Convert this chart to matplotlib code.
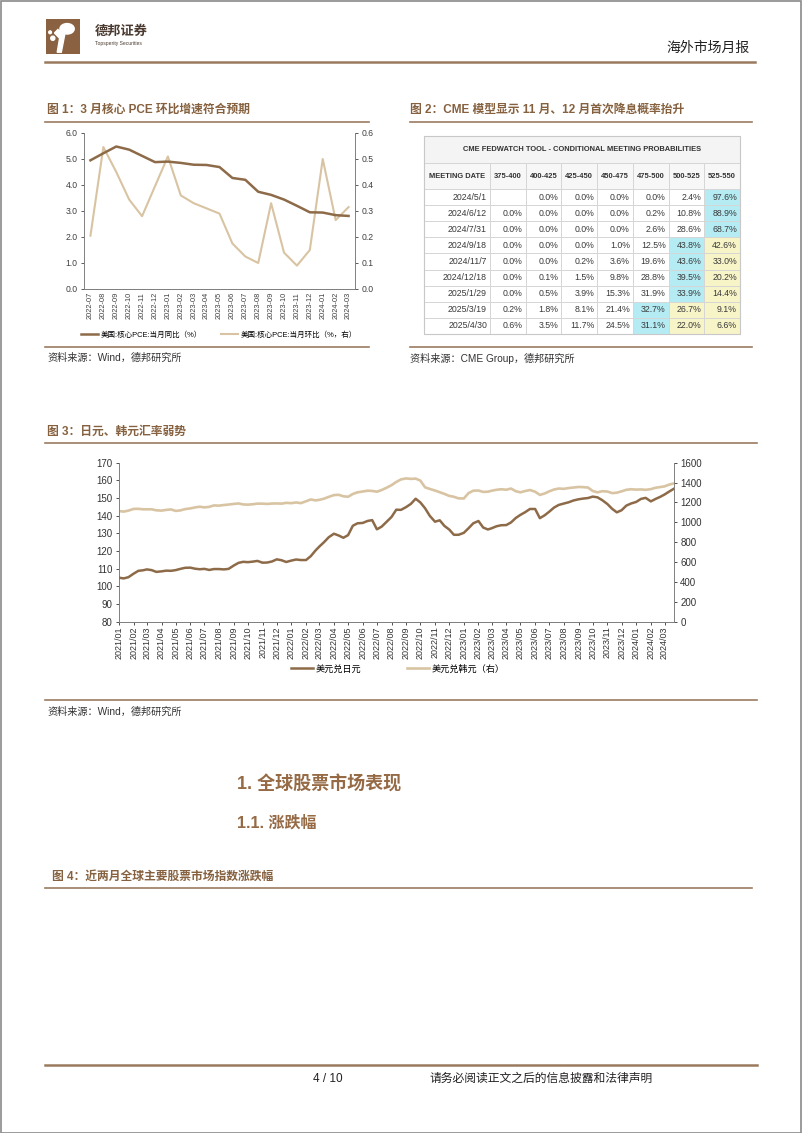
import matplotlib
matplotlib.use("Agg")
import matplotlib.pyplot as plt
import matplotlib.dates as mdates
from matplotlib.lines import Line2D
from matplotlib.patches import Rectangle, Ellipse, Polygon
import numpy as np
import pandas as pd

plt.rcParams['font.family'] = ['Liberation Sans', 'Noto Sans CJK SC', 'DejaVu Sans']

# ---------------- data ----------------
pce_months = ['2022-07', '2022-08', '2022-09', '2022-10', '2022-11', '2022-12',
              '2023-01', '2023-02', '2023-03', '2023-04', '2023-05', '2023-06',
              '2023-07', '2023-08', '2023-09', '2023-10', '2023-11', '2023-12',
              '2024-01', '2024-02', '2024-03']
pce_yoy = [4.95, 5.22, 5.48, 5.36, 5.12, 4.88, 4.90, 4.85, 4.78, 4.77, 4.69,
           4.27, 4.20, 3.74, 3.62, 3.44, 3.20, 2.95, 2.94, 2.84, 2.81]
pce_mom = [0.205, 0.546, 0.45, 0.344, 0.28, 0.395, 0.51, 0.36, 0.33, 0.31, 0.29,
           0.175, 0.125, 0.10, 0.33, 0.14, 0.09, 0.15, 0.50, 0.265, 0.315]
pce_labels = ['美国:核心PCE:当月同比（%）', '美国:核心PCE:当月环比（%，右）']

cme_dates = ['2024/5/1', '2024/6/12', '2024/7/31', '2024/9/18', '2024/11/7',
             '2024/12/18', '2025/1/29', '2025/3/19', '2025/4/30']
cme_ranges = ['375-400', '400-425', '425-450', '450-475', '475-500', '500-525', '525-550']
cme_probs = [
    [None, 0.0, 0.0, 0.0, 0.0, 2.4, 97.6],
    [0.0, 0.0, 0.0, 0.0, 0.2, 10.8, 88.9],
    [0.0, 0.0, 0.0, 0.0, 2.6, 28.6, 68.7],
    [0.0, 0.0, 0.0, 1.0, 12.5, 43.8, 42.6],
    [0.0, 0.0, 0.2, 3.6, 19.6, 43.6, 33.0],
    [0.0, 0.1, 1.5, 9.8, 28.8, 39.5, 20.2],
    [0.0, 0.5, 3.9, 15.3, 31.9, 33.9, 14.4],
    [0.2, 1.8, 8.1, 21.4, 32.7, 26.7, 9.1],
    [0.6, 3.5, 11.7, 24.5, 31.1, 22.0, 6.6],
]
cme_yellow = [(3, 6), (4, 6), (5, 6), (6, 6), (7, 6), (8, 6), (7, 5), (8, 5)]

fx_months = pd.period_range('2021-01', '2024-03', freq='M')
fx_days = [1, 11, 21]
jpy = [104.9, 104.5, 105.2, 107.2, 108.8, 109.1, 109.6, 109.2, 108.2,
       108.5, 108.9, 108.8, 109.2, 109.9, 110.5, 110.6, 110.0, 109.7,
       109.9, 109.3, 109.8, 109.8, 109.6, 109.9, 111.8, 113.3, 113.9,
       113.7, 114.0, 114.4, 113.4, 113.5, 114.1, 115.3, 114.8, 113.8,
       114.6, 115.2, 114.9, 114.9, 117.1, 120.3, 122.5, 125.0, 127.8,
       129.8, 128.8, 127.5, 129.0, 134.3, 135.7, 135.9, 137.0, 137.5,
       132.3, 133.8, 136.4, 139.3, 143.4, 143.3, 144.9, 146.7, 149.6,
       147.5, 144.2, 139.9, 136.6, 137.4, 134.2, 132.2, 129.2, 129.2,
       130.3, 132.9, 135.7, 137.0, 133.3, 132.2, 132.9, 134.0, 134.6,
       134.7, 136.2, 138.7, 140.5, 142.0, 143.8, 143.8, 138.6, 140.2,
       142.3, 144.6, 146.1, 146.9, 147.6, 148.6, 149.3, 149.7, 150.0,
       150.8, 150.4, 148.8, 146.6, 143.9, 141.9, 143.1, 145.7, 146.9,
       147.8, 149.5, 150.1, 148.1, 149.5, 150.7, 152.0, 153.7, 155.3]
krw = [1113, 1108, 1118, 1135, 1136, 1131, 1131, 1131, 1121,
       1118, 1125, 1130, 1115, 1120, 1133, 1140, 1150, 1157,
       1150, 1156, 1170, 1168, 1174, 1179, 1185, 1190, 1180,
       1178, 1182, 1188, 1188, 1185, 1189, 1190, 1188, 1196,
       1193, 1200, 1193, 1212, 1230, 1221, 1226, 1238, 1256,
       1274, 1277, 1262, 1257, 1285, 1302, 1310, 1318, 1316,
       1308, 1325, 1347, 1374, 1406, 1432, 1442, 1437, 1440,
       1420, 1352, 1336, 1320, 1303, 1286, 1266, 1257, 1241,
       1240, 1294, 1318, 1320, 1306, 1308, 1318, 1327, 1333,
       1328, 1340, 1313, 1302, 1315, 1325, 1308, 1276, 1290,
       1312, 1330, 1340, 1337, 1345, 1350, 1356, 1354, 1350,
       1315, 1302, 1313, 1310, 1294, 1298, 1312, 1327, 1333,
       1329, 1331, 1327, 1334, 1348, 1355, 1362, 1380, 1392]
fx_labels = ['美元兑日元', '美元兑韩元（右）']

# ---------------- layout helpers ----------------
W, H = 802, 1133
fig = plt.figure(figsize=(W / 100, H / 100), dpi=100)
fig.patch.set_facecolor('white')


def rect(l, t, r, b):
    return [l / W, 1 - b / H, (r - l) / W, (b - t) / H]


def ftxt(x, y, s, **kw):
    kw.setdefault('va', 'center')
    fig.text(x / W, 1 - y / H, s, **kw)


def hline(x0, x1, y, color='#9c7c60', lw=1.2):
    fig.add_artist(Line2D([x0 / W, x1 / W], [1 - y / H, 1 - y / H],
                          transform=fig.transFigure, color=color, lw=lw))


BROWN = '#8d6a48'
TAN = '#d8c4a2'
TITLE_C = '#86613f'
SPINE = '#808080'
TXT = '#333333'

# page border
fig.add_artist(Rectangle((0.5 / W, 0.5 / H), 1 - 1.5 / W, 1 - 1.5 / H, transform=fig.transFigure,
                         fill=False, edgecolor='#8a8a8a', lw=1.2))

# ---------------- header ----------------
lax = fig.add_axes(rect(46, 19, 80, 54))
lax.set_xlim(0, 1); lax.set_ylim(0, 1); lax.axis('off')
lax.add_patch(Rectangle((0, 0), 1, 1, color='#8a6242'))
lax.add_patch(Ellipse((0.62, 0.72), 0.42, 0.3, color='white'))
lax.add_patch(Polygon([[0.35, 0.7], [0.55, 0.55], [0.45, 0.05], [0.33, 0.05], [0.4, 0.45], [0.25, 0.6]],
                      closed=True, color='white'))
lax.add_patch(Ellipse((0.2, 0.45), 0.12, 0.12, color='white'))
lax.add_patch(Ellipse((0.12, 0.62), 0.08, 0.08, color='white'))
ftxt(95, 32, '德邦证券', fontsize=9.5, fontweight='bold', color='#4a3a30')
ftxt(95, 43, 'Topsperity Securities', fontsize=3.6, color='#4a3a30')
ftxt(750, 48, '海外市场月报', fontsize=10, color='#222222', ha='right')
hline(45, 755, 62, color='#9a7a5e', lw=1.8)

# ---------------- figure titles / rules ----------------
ftxt(47, 110, '图 1：3 月核心 PCE 环比增速符合预期', fontsize=8.5, fontweight='bold', color=TITLE_C)
ftxt(410, 110, '图 2：CME 模型显示 11 月、12 月首次降息概率抬升', fontsize=8.5, fontweight='bold', color=TITLE_C)
hline(45, 369, 122)
hline(410, 752, 122)
hline(45, 369, 347)
hline(410, 752, 347)
ftxt(47, 358, '资料来源：Wind，德邦研究所', fontsize=7.3, color=TXT)
ftxt(410, 358, '资料来源：CME Group，德邦研究所', fontsize=7.3, color=TXT)

# ---------------- figure 1 ----------------
ax1 = fig.add_axes(rect(84, 133, 355, 289))
x1 = np.arange(len(pce_months))
ax1b = ax1.twinx()
l2, = ax1b.plot(x1, pce_mom, color=TAN, lw=1.5, label=pce_labels[1], zorder=2)
l1, = ax1.plot(x1, pce_yoy, color=BROWN, lw=1.8, label=pce_labels[0], zorder=3)
ax1.set_zorder(ax1b.get_zorder() + 1)
ax1.patch.set_visible(False)
ax1.set_xlim(-0.5, len(pce_months) - 0.5)
ax1.set_ylim(0, 6)
ax1b.set_ylim(0, 0.6)
ax1.set_yticks(np.arange(0, 6.01, 1.0))
ax1.set_yticklabels([f'{v:.1f}' for v in np.arange(0, 6.01, 1.0)])
ax1b.set_yticks(np.arange(0, 0.601, 0.1))
ax1b.set_yticklabels([f'{v:.1f}' for v in np.arange(0, 0.601, 0.1)])
ax1.set_xticks(x1)
ax1.set_xticklabels(pce_months, rotation=90)
for a in (ax1, ax1b):
    a.spines['top'].set_visible(False)
    for s in a.spines.values():
        s.set_color(SPINE); s.set_linewidth(0.7)
    a.tick_params(axis='both', colors='#404040', labelsize=6.2, length=2.5, width=0.6, pad=2)
ax1.tick_params(axis='x', labelsize=5.3, length=0, pad=2)
ax1b.spines['left'].set_visible(False)
ax1.spines['right'].set_visible(False)
fig.legend(handles=[l1, l2], loc='center', bbox_to_anchor=(219 / W, 1 - 335 / H), ncol=2,
           frameon=False, fontsize=5.4, handlelength=2.3, columnspacing=2.6, handletextpad=0.3)

# ---------------- figure 2 (table) ----------------
col_w = [66] + [35.7] * 7
row_h = [27, 26] + [16.1] * len(cme_dates)
tw, th = sum(col_w), sum(row_h)
tax = fig.add_axes(rect(424, 136, 740, 334))
tax.set_xlim(0, tw); tax.set_ylim(th, 0); tax.axis('off')
edges_x = np.concatenate([[0], np.cumsum(col_w)])
edges_y = np.concatenate([[0], np.cumsum(row_h)])
GRID = '#d6d6d6'
BLUE = '#b5ecf4'
YELLOW = '#f7f4c8'
tax.add_patch(Rectangle((0, 0), tw, row_h[0], facecolor='#f4f4f4', edgecolor=GRID, lw=0.7, clip_on=False))
tax.text(tw / 2, row_h[0] / 2, 'CME FEDWATCH TOOL - CONDITIONAL MEETING PROBABILITIES',
         ha='center', va='center', fontsize=5.4, fontweight='bold', color='#333333')
hdr = ['MEETING DATE'] + cme_ranges
for j, h in enumerate(hdr):
    tax.add_patch(Rectangle((edges_x[j], edges_y[1]), col_w[j], row_h[1], facecolor='#f7f7f7',
                            edgecolor=GRID, lw=0.7, clip_on=False))
    tax.text(edges_x[j] + col_w[j] / 2, edges_y[1] + row_h[1] / 2, h, ha='center', va='center',
             fontsize=5.4, fontweight='bold', color='#333333')
for i, d in enumerate(cme_dates):
    y0 = edges_y[2 + i]
    vals = cme_probs[i]
    vmax = max(v for v in vals if v is not None)
    tax.add_patch(Rectangle((0, y0), col_w[0], row_h[2 + i], facecolor='white', edgecolor=GRID,
                            lw=0.7, clip_on=False))
    tax.text(col_w[0] - 3, y0 + row_h[2 + i] / 2, d, ha='right', va='center', fontsize=6.3, color='#3a3a3a')
    for j, v in enumerate(vals):
        fc = 'white'
        if v is not None and v == vmax:
            fc = BLUE
        elif (i, j) in cme_yellow:
            fc = YELLOW
        x0 = edges_x[j + 1]
        tax.add_patch(Rectangle((x0, y0), col_w[j + 1], row_h[2 + i], facecolor=fc, edgecolor=GRID,
                                lw=0.7, clip_on=False))
        if v is not None:
            tax.text(x0 + col_w[j + 1] - 3, y0 + row_h[2 + i] / 2, f'{v:.1f}%', ha='right', va='center',
                     fontsize=6.3, color='#3a3a3a')
tax.add_patch(Rectangle((0, 0), tw, th, fill=False, edgecolor='#c8c8c8', lw=0.8, clip_on=False))

# ---------------- figure 3 ----------------
ftxt(47, 432, '图 3：日元、韩元汇率弱势', fontsize=8.5, fontweight='bold', color=TITLE_C)
hline(45, 757, 443)
hline(45, 757, 700)
ftxt(47, 712, '资料来源：Wind，德邦研究所', fontsize=7.3, color=TXT)

fx_dates = [pd.Timestamp(year=p.year, month=p.month, day=d) for p in fx_months for d in fx_days]
ax3 = fig.add_axes(rect(119, 462.7, 674, 621.7))
ax3b = ax3.twinx()
k2, = ax3b.plot(fx_dates, krw, color=TAN, lw=1.9, label=fx_labels[1], zorder=2)
k1, = ax3.plot(fx_dates, jpy, color=BROWN, lw=1.8, label=fx_labels[0], zorder=3)
ax3.set_zorder(ax3b.get_zorder() + 1)
ax3.patch.set_visible(False)
ax3.set_xlim(fx_dates[0], fx_dates[-1])
ax3.set_ylim(80, 170)
ax3b.set_ylim(0, 1600)
ax3.set_yticks(np.arange(80, 171, 10))
ax3b.set_yticks(np.arange(0, 1601, 200))
ax3.xaxis.set_major_locator(mdates.MonthLocator())
ax3.xaxis.set_major_formatter(mdates.DateFormatter('%Y/%m'))
for a in (ax3, ax3b):
    a.spines['top'].set_visible(False)
    for s in a.spines.values():
        s.set_color(SPINE); s.set_linewidth(0.7)
    a.tick_params(axis='both', colors='#333333', labelsize=7, length=2.5, width=0.6, pad=2)
ax3b.spines['left'].set_visible(False)
ax3.spines['right'].set_visible(False)
ax3.tick_params(axis='x', rotation=90, labelsize=6.5, length=2, pad=1.5)
fig.legend(handles=[k1, k2], loc='center', bbox_to_anchor=(398 / W, 1 - 669 / H), ncol=2,
           frameon=False, fontsize=6.6, handlelength=2.4, columnspacing=5.0, handletextpad=0.3)

# ---------------- section headings ----------------
ftxt(237, 785, '1. 全球股票市场表现', fontsize=13, fontweight='bold', color='#956a45')
ftxt(237, 823, '1.1. 涨跌幅', fontsize=11.5, fontweight='bold', color='#956a45')
ftxt(52, 877, '图 4：近两月全球主要股票市场指数涨跌幅', fontsize=8.5, fontweight='bold', color=TITLE_C)
hline(45, 752, 888)

# ---------------- footer ----------------
hline(45, 757, 1065, color='#9a7a5e', lw=1.8)
ftxt(313, 1079, '4 / 10', fontsize=8.5, color='#222222')
ftxt(430, 1079, '请务必阅读正文之后的信息披露和法律声明', fontsize=8.5, color='#222222')

fig.savefig('out.png', dpi=100, facecolor='white')
